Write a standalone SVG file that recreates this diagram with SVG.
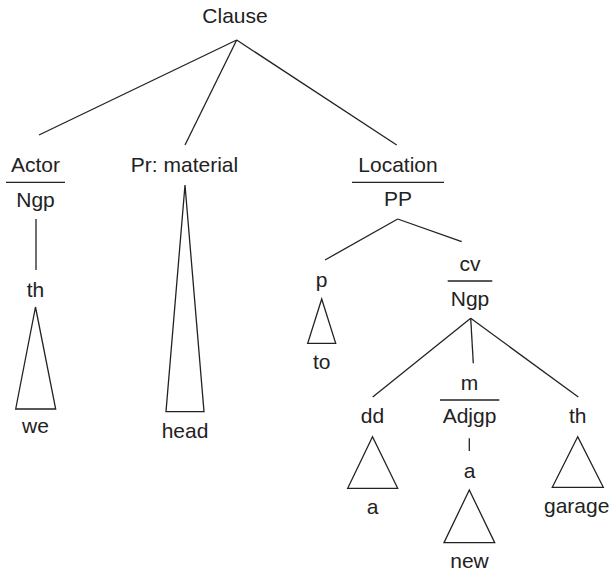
<svg xmlns="http://www.w3.org/2000/svg" width="613" height="574" viewBox="0 0 613 574">
<style>
text{font-family:"Liberation Sans",Arial,sans-serif;font-size:21px;fill:#222;text-anchor:middle}
line,polygon{stroke:#222;stroke-width:1.3;fill:none}
</style>
<rect width="613" height="574" fill="#fff"/>
<g id="connectors">
<line x1="236.7" y1="40" x2="39" y2="135"/>
<line x1="236.7" y1="40" x2="185" y2="145"/>
<line x1="236.7" y1="40" x2="396.7" y2="145"/>
<line x1="36" y1="219" x2="36" y2="270"/>
<line x1="397.7" y1="219" x2="325" y2="260"/>
<line x1="397.7" y1="219" x2="461.7" y2="241.7"/>
<line x1="470.7" y1="318.3" x2="372.7" y2="397"/>
<line x1="470.7" y1="318.3" x2="473.3" y2="363.3"/>
<line x1="470.7" y1="318.3" x2="578.3" y2="397"/>
<line x1="469.3" y1="438.3" x2="469.3" y2="451"/>
</g>
<g id="clause"><text x="235" y="23">Clause</text></g>
<g id="actor">
<text x="35.5" y="172">Actor</text>
<line x1="6" y1="182.3" x2="65" y2="182.3"/>
<text x="35.5" y="207">Ngp</text>
</g>
<g id="actor-th">
<text x="35.5" y="297">th</text>
<polygon points="35.5,307 15.7,409 55.7,409"/>
<text x="35.5" y="433">we</text>
</g>
<g id="process">
<text x="184.5" y="172">Pr: material</text>
<polygon points="185,185 166,411.7 204,411.7"/>
<text x="185" y="438">head</text>
</g>
<g id="location">
<text x="398" y="172">Location</text>
<line x1="352" y1="182.3" x2="444" y2="182.3"/>
<text x="398" y="206">PP</text>
</g>
<g id="p">
<text x="321.7" y="287">p</text>
<polygon points="321.7,299 307.7,343.3 335.7,343.3"/>
<text x="321.7" y="369">to</text>
</g>
<g id="cv">
<text x="470" y="271">cv</text>
<line x1="447.7" y1="281" x2="492.3" y2="281"/>
<text x="470" y="306">Ngp</text>
</g>
<g id="dd">
<text x="372.5" y="423">dd</text>
<polygon points="372.5,436.7 347.7,488.3 397.7,488.3"/>
<text x="372.5" y="514">a</text>
</g>
<g id="m">
<text x="469.5" y="390">m</text>
<line x1="440" y1="400" x2="499.3" y2="400"/>
<text x="469.5" y="423">Adjgp</text>
<text x="469.5" y="477.5">a</text>
<polygon points="469.3,490 444,542.7 494.7,542.7"/>
<text x="469.5" y="568">new</text>
</g>
<g id="th">
<text x="577.7" y="423">th</text>
<polygon points="577.7,436.7 552.3,487.3 603.3,487.3"/>
<text x="576.7" y="513">garage</text>
</g>
</svg>
